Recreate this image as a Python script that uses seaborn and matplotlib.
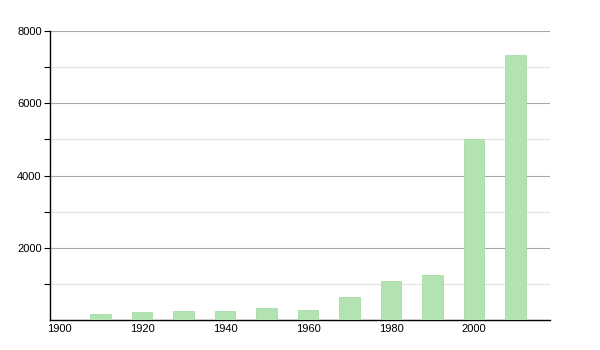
import matplotlib
matplotlib.use("Agg")
import matplotlib.pyplot as plt
import seaborn as sns
import pandas as pd
from matplotlib.ticker import FixedLocator

years = [1910, 1920, 1930, 1940, 1950, 1960, 1970, 1980, 1990, 2000, 2010]
population = [175, 230, 260, 250, 340, 285, 645, 1090, 1235, 5010, 7330]
x_ticks = [1900, 1920, 1940, 1960, 1980, 2000]
y_ticks = [2000, 4000, 6000, 8000]

sns.set_style("white")
plt.rcParams['font.family'] = ['Liberation Sans', 'DejaVu Sans']

df = pd.DataFrame({"year": years, "population": population})

fig = plt.figure(figsize=(6, 3.5), dpi=100)
ax = fig.add_axes([50/600, 30/350, 500/600, 289/350])

sns.barplot(data=df, x="year", y="population", native_scale=True, width=0.5,
            color="#b3e3b3", saturation=1, edgecolor="#a8dca8", linewidth=0.6,
            ax=ax, zorder=3)

ax.set_xlim(1897.8, 2018.3)
ax.set_ylim(0, 8000)
ax.xaxis.set_major_locator(FixedLocator(x_ticks))
ax.set_xticklabels([str(t) for t in x_ticks])
ax.yaxis.set_major_locator(FixedLocator(y_ticks))
ax.set_yticklabels([str(t) for t in y_ticks])
ax.yaxis.set_minor_locator(FixedLocator([1000, 3000, 5000, 7000]))

ax.grid(axis="y", which="major", color="#a8a8a8", linewidth=0.8, zorder=0)
ax.grid(axis="y", which="minor", color="#e2e2e2", linewidth=0.8, zorder=0)
ax.set_axisbelow(True)

for s in ["top", "right"]:
    ax.spines[s].set_visible(False)
for s in ["left", "bottom"]:
    ax.spines[s].set_color("black")
    ax.spines[s].set_linewidth(1.0)

ax.tick_params(axis="y", which="both", left=True, length=4, width=0.8,
               color="black", labelsize=8, pad=2, labelcolor="black")
ax.tick_params(axis="x", which="both", bottom=False, length=0, labelsize=8,
               pad=3, labelcolor="black")
ax.set_xlabel("")
ax.set_ylabel("")

fig.savefig("out.png", dpi=100)
